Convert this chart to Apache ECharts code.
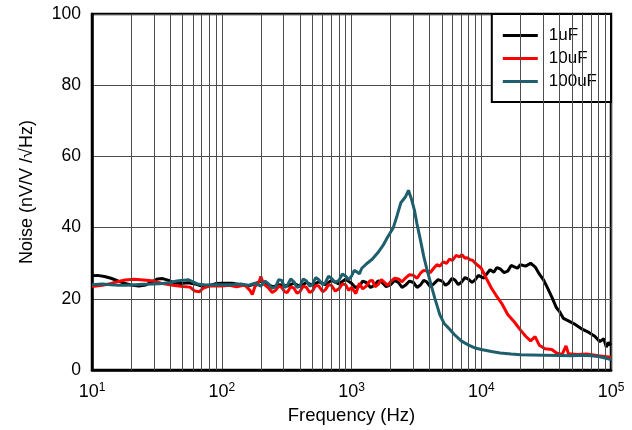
<!DOCTYPE html>
<html>
<head>
<meta charset="utf-8">
<script src="https://cdn.jsdelivr.net/npm/echarts@6/dist/echarts.min.js"></script>
<style>
html,body{margin:0;padding:0;background:#fff;}
#chart{width:632px;height:430px;}
</style>
</head>
<body>
<div id="chart"></div>
<script>
// 1uF
var f1uF = [10,11,12.5,14,16,18,20,23,26,29,32,35,39,43,48,55,62,70,80,90,100,120,140,160,180,200,220,250,280,320,360,400,450,500,560,630,700,800,900,
	1000,1070,1150,1220,1300,1400,1500,1600,1700,1850,2000,2150,2300,2450,2600,2800,3000,3200,3400,3600,3800,4050,4300,4650,5000,5300,5600,5950,6300,6650,7000,7500,8000,8500,9000,9500,
	10000,10500,11000,11700,12500,13200,14000,15000,16000,17000,18000,19000,20000,22000,24000,26000,28000,30000,32000,35000,38000,40000,43000,47000,52000,60000,68000,75000,82000,88000,92000,96000,100000];
var v1uF = [26.5,26.6,26.3,25.8,25.0,24.3,23.9,23.6,23.9,24.8,25.6,25.7,25.2,24.5,24.3,24.5,24.2,23.6,23.7,24.3,24.4,24.4,24.0,23.6,24.2,25.0,24.2,23.4,24.0,23.6,24.4,23.5,24.6,23.8,24.8,24.0,25.2,24.2,25.5,
	24.4,23.2,23.6,25.0,24.6,23.2,23.8,25.0,24.8,23.4,24.0,25.2,24.6,23.2,23.8,25.0,24.6,23.2,23.9,25.2,24.8,23.4,24.2,25.4,25.0,23.8,24.4,25.8,25.2,24.0,24.6,26.0,25.5,24.6,25.4,26.6,
	26.2,25.8,27.0,28.2,27.5,28.8,28.4,27.4,27.8,29.4,29.0,28.6,29.6,29.2,30.0,29.0,27.0,25.5,23.5,20.5,17.5,16.5,14.5,13.8,13.0,11.5,10.5,9.5,8.0,8.8,6.5,7.8,7.0];
// 10uF
var f10uF = [10,12,14,16,18,21,25,30,35,42,50,57,62,67,72,80,90,100,115,130,150,165,172,180,195,200,210,
	230,245,260,275,290,305,320,340,360,380,400,425,450,475,500,530,560,600,630,665,700,750,800,850,900,950,1000,1080,1150,1220,1300,1380,1450,1520,1600,1700,1800,1900,2000,2150,2300,2450,2600,2800,3000,3200,3400,3600,3800,4050,4300,4550,4800,5100,5400,5700,6000,6400,6800,7100,7500,7800,8200,8600,9000,
	10000,11000,12000,13000,14500,16000,18000,20000,22000,24000,26000,28000,31000,35000,38000,42000,45000,47000,55000,65000,80000,100000];
var v10uF = [23.5,23.8,24.3,24.9,25.3,25.5,25.3,25.0,24.3,23.8,23.5,23.3,22.2,22.0,23.0,23.6,23.6,23.6,23.8,23.4,23.9,22.4,21.2,23.4,25.0,26.3,24.2,
	23.0,21.8,22.4,23.6,23.2,22.0,21.8,23.4,23.0,21.6,22.0,23.6,23.2,21.8,22.2,23.8,23.6,22.0,22.6,24.0,23.8,22.2,22.8,24.2,24.0,22.4,23.2,21.5,24.4,22.8,23.6,25.0,25.2,23.4,24.0,25.4,24.6,23.8,24.8,25.8,25.6,24.8,25.8,26.8,26.6,25.8,27.2,28.0,27.8,27.4,28.6,29.6,29.2,30.4,30.0,31.2,30.8,32.2,31.8,32.4,31.4,31.6,31.0,30.8,30.0,
	28.6,25.6,23.0,21.0,18.5,15.6,13.5,11.3,9.5,8.2,9.4,7.0,6.0,5.8,4.8,4.4,6.8,4.6,4.4,4.5,4.0,3.6];
// 100uF
var f100uF = [10,12,14,16,18,20,25,30,35,40,45,50,55,60,65,75,85,100,120,140,160,180,
	200,215,230,245,260,275,290,305,320,340,360,380,400,425,450,475,500,530,560,600,630,665,700,750,800,850,900,950,1000,1050,1100,1150,
	1200,1300,1450,1600,1750,1900,2100,2250,2400,2600,2750,2900,3050,3200,3400,3600,3800,4100,4400,4800,5200,5600,6200,7000,8000,9000,10000,12000,14000,17000,20000,30000,40000,50000,60000,70000,80000,90000,100000];
var v100uF = [24.0,24.2,24.0,23.8,23.8,23.9,24.1,24.2,24.3,24.6,25.0,25.2,25.4,24.8,24.2,23.9,24.0,24.0,24.0,24.2,23.8,24.4,
	23.6,25.0,24.2,23.0,23.4,25.4,25.2,23.2,23.8,25.6,24.8,23.2,23.6,25.6,25.0,23.6,24.0,26.0,25.4,24.0,24.6,26.4,25.8,24.6,25.2,27.0,26.4,25.4,26.4,28.0,27.6,27.0,
	28.6,29.8,31.2,33.0,35.0,37.4,40.0,43.5,47.0,48.6,50.5,48.0,45.0,41.0,36.5,32.0,28.5,24.0,20.0,15.5,13.0,11.8,10.0,8.2,7.0,6.2,5.8,5.2,4.8,4.5,4.3,4.2,4.1,4.0,4.2,4.0,3.8,3.4,3.0];

var seriesNames = ['1uF', '10uF', '100uF'];
var seriesColors = ['#000000', '#ff0000', '#1f5f6d'];
var yTicks = [0, 20, 40, 60, 80, 100];
// minor frequency grid lines (2..9 per decade)
var minorFreqs = [20,30,40,50,60,70,80,90,200,300,400,500,600,700,800,900,2000,3000,4000,5000,6000,7000,8000,9000,20000,30000,40000,50000,60000,70000,80000,90000];

function pairs(f, v){
	var out = [];
	for (var i = 0; i < f.length; i++) out.push([f[i], v[i]]);
	return out;
}

var myChart = echarts.init(document.getElementById('chart'), null, {renderer: 'canvas'});
var font = 'Liberation Sans, Arial, sans-serif';

var option = {
	animation: false,
	backgroundColor: '#fff',
	grid: {left: 92, top: 14, right: 21, bottom: 56, show: true, borderColor: '#000', borderWidth: 2.5, backgroundColor: 'transparent'},
	legend: {
		data: seriesNames,
		orient: 'vertical',
		right: 21, top: 14,
		backgroundColor: '#fff',
		borderColor: '#000', borderWidth: 2,
		borderRadius: 0,
		padding: [13, 14, 12, 11],
		itemGap: 6,
		itemWidth: 35, itemHeight: 3,
		icon: 'rect',
		textStyle: {fontFamily: font, fontSize: 17, color: '#000', padding: [0, 0, 0, 6]}
	},
	xAxis: {
		type: 'log', logBase: 10, min: 10, max: 100000,
		name: 'Frequency (Hz)', nameLocation: 'middle', nameGap: 35,
		nameTextStyle: {fontFamily: font, fontSize: 18.5, color: '#000'},
		axisLine: {show: true, lineStyle: {color: '#000', width: 2.5}},
		axisTick: {show: false},
		splitLine: {show: true, lineStyle: {color: '#4d4d4d', width: 1}},
		axisLabel: {
			margin: 12,
			formatter: function(v){
				return '{b|10}{s|' + Math.round(Math.log10(v)) + '}';
			},
			rich: {
				b: {fontFamily: font, fontSize: 18, color: '#000'},
				s: {fontFamily: font, fontSize: 12, color: '#000', verticalAlign: 'top', padding: [0, 0, 8, 0]}
			}
		}
	},
	yAxis: {
		type: 'value', min: 0, max: 100, interval: 20,
		name: 'Noise (nV/V /\u221AHz)', nameLocation: 'middle', nameGap: 56,
		nameTextStyle: {fontFamily: font, fontSize: 18, color: '#000'},
		axisLine: {show: true, lineStyle: {color: '#000', width: 2.5}},
		axisTick: {show: false},
		splitLine: {show: true, lineStyle: {color: '#4d4d4d', width: 1}},
		axisLabel: {fontFamily: font, fontSize: 17.5, color: '#000', margin: 11,
			formatter: function(v){ return yTicks.indexOf(v) >= 0 ? String(v) : ''; }}
	},
	series: [
		{
			name: 'grid', type: 'line', data: [], z: 0, silent: true,
			markLine: {
				silent: true, symbol: ['none', 'none'], animation: false,
				label: {show: false},
				lineStyle: {color: '#4d4d4d', width: 1, type: 'solid'},
				emphasis: {disabled: true},
				data: minorFreqs.map(function(f){ return {xAxis: f}; })
			}
		}
	]
};

var fs = [f1uF, f10uF, f100uF];
var vs = [v1uF, v10uF, v100uF];
for (var i = 0; i < 3; i++) {
	option.series.push({
		name: seriesNames[i], type: 'line', z: 3 + i,
		data: pairs(fs[i], vs[i]),
		showSymbol: false, symbol: 'none',
		lineStyle: {color: seriesColors[i], width: 3},
		itemStyle: {color: seriesColors[i]}
	});
}

myChart.setOption(option);
</script>
</body>
</html>
